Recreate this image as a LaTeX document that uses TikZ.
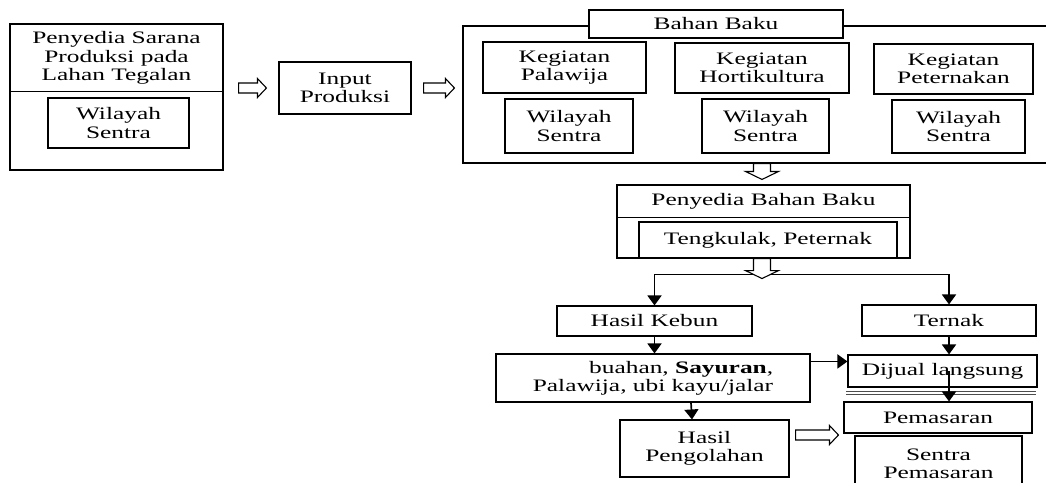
\documentclass[tikz,border=0pt]{standalone}
\usepackage{fontspec}
\setmainfont{Liberation Serif}[FakeStretch=1.45]
\usetikzlibrary{arrows.meta,calc}

% hollow block arrows between two points (tail, tip)
\newcommand\hollowright[2]{%
  \draw[hollow] let \p1=(#1), \p2=(#2) in
    (\x1,\y1+5pt) -- (\x2-9pt,\y1+5pt) -- (\x2-9pt,\y1+9.5pt) -- (\x2,\y1)
    -- (\x2-9pt,\y1-9.5pt) -- (\x2-9pt,\y1-5pt) -- (\x1,\y1-5pt) -- cycle;}
\newcommand\hollowdown[2]{%
  \draw[hollow] let \p1=(#1), \p2=(#2) in
    (\x1-8.5pt,\y1) -- (\x1-8.5pt,\y2+8pt) -- (\x1-16.5pt,\y2+8pt) -- (\x1,\y2)
    -- (\x1+16.5pt,\y2+8pt) -- (\x1+8.5pt,\y2+8pt) -- (\x1+8.5pt,\y1) -- cycle;}

\begin{document}
\begin{tikzpicture}[x=1pt,y=-1pt,
  txt/.style={inner sep=0pt, align=center, font=\fontsize{17.5pt}{18.3pt}\selectfont},
  box/.style={txt, draw, line width=1.1pt},
  arr/.style={line width=1.7pt, -{Triangle[width=14pt,length=10pt]}},
  hollow/.style={draw, fill=white, line width=1.1pt, line join=miter},
]
\useasboundingbox (0,0) rectangle (1046,482);
\clip (0,0) rectangle (1046,482);
\fill[white] (0,0) rectangle (1046,482);

% production inputs on dry land
\node[box, minimum width=213pt, minimum height=146pt] (sarana) at (116.5,97) {};
\node[txt] (saranatxt) at (116.5,58) {Penyedia Sarana\\Produksi pada\\Lahan Tegalan};
\draw[line width=1.1pt] ($(sarana.north west)+(0,68)$) -- ($(sarana.north east)+(0,68)$);
\node[box, minimum width=141pt, minimum height=50pt] (wil0) at (118.5,123) {Wilayah\\Sentra};

\node[box, minimum width=132pt, minimum height=52pt] (input) at (345,88) {Input\\Produksi};

% raw material group
\node[box, minimum width=597pt, minimum height=137pt] (bahan) at (761.5,94.5) {};
\node[box, fill=white, minimum width=254pt, minimum height=28pt] (bahanbaku) at (716,24) {Bahan Baku};
\node[box, minimum width=163pt, minimum height=51pt] (keg1) at (564.5,67.5) {Kegiatan\\Palawija};
\node[box, minimum width=174pt, minimum height=50pt] (keg2) at (762,68) {Kegiatan\\Hortikultura};
\node[box, minimum width=159pt, minimum height=50pt] (keg3) at (953.5,69) {Kegiatan\\Peternakan};
\node[box, minimum width=128pt, minimum height=54pt] (wil1) at (569,126) {Wilayah\\Sentra};
\node[box, minimum width=127pt, minimum height=54pt] (wil2) at (765.5,126) {Wilayah\\Sentra};
\node[box, minimum width=133pt, minimum height=53pt] (wil3) at (958.5,126.5) {Wilayah\\Sentra};

% raw material suppliers
\node[box, minimum width=293pt, minimum height=73pt] (penyedia) at (763.5,221.5) {};
\node[txt] (penyediatxt) at (763.5,201.5) {Penyedia Bahan Baku};
\draw[line width=1.1pt] ($(penyedia.north west)+(0,33)$) -- ($(penyedia.north east)+(0,33)$);
\node[box, minimum width=258pt, minimum height=36pt] (tengkulak) at (768,240) {Tengkulak, Peternak};

% products
\node[box, minimum width=195pt, minimum height=30pt] (hk) at (654.5,321) {Hasil Kebun};
\node[box, minimum width=174pt, minimum height=31pt] (ternak) at (949,320.5) {Ternak};
\node[box, minimum width=314pt, minimum height=48pt, align=right] (buahan) at (653,378)
  {buahan, \textbf{Sayuran},\\Palawija, ubi kayu/jalar};
\node[box, minimum width=189pt, minimum height=32pt] (dijual) at (942.5,371) {Dijual langsung};
\node[box, minimum width=188pt, minimum height=31pt] (pemasaran) at (938,417.5) {Pemasaran};
\node[box, minimum width=167pt, minimum height=56pt] (sentra) at (938.5,464) {Sentra\\Pemasaran};
\node[box, minimum width=169pt, minimum height=57pt] (hp) at (704.5,448.5) {Hasil\\Pengolahan};

\draw[gray!60!black, line width=0.6pt] ($(dijual.south west)+(-1,4)$) -- ($(dijual.south east)+(-2,4)$);
\draw[gray!60!black, line width=0.6pt] ($(dijual.south west)+(-1,6.5)$) -- ($(dijual.south east)+(-2,6.5)$);

% block arrows
\coordinate (a1t) at ($(sarana.east |- input.center)+(15,0)$);
\coordinate (a1h) at ($(input.west)+(-12,0)$);
\hollowright{a1t}{a1h}
\coordinate (a2t) at ($(input.east)+(12,0)$);
\coordinate (a2h) at ($(bahan.west |- input.center)+(-8,0)$);
\hollowright{a2t}{a2h}
\coordinate (a3t) at (keg2 |- bahan.south);
\coordinate (a3h) at ($(keg2 |- penyedia.north)+(0,-5)$);
\hollowdown{a3t}{a3h}

% branch to garden and livestock products
\coordinate (split) at ($(keg2 |- penyedia.south)+(0,16)$);
\draw[arr] (split) -| (hk.north);
\draw[arr] (split) -| (ternak.north);
\coordinate (a4t) at (keg2 |- penyedia.south);
\coordinate (a4h) at ($(keg2 |- penyedia.south)+(0,20)$);
\hollowdown{a4t}{a4h}

\draw[arr] (hk.south) -- (hk.south |- buahan.north);
\draw[arr] (ternak.south) -- (ternak.south |- dijual.north);
\coordinate (bd) at ($(buahan.north east)+(0,8)$);
\draw[arr] (bd) -- (dijual.west |- bd);
\draw[arr] (ternak.south |- dijual.center) -- (ternak.south |- pemasaran.north);
\coordinate (bh) at ($(buahan.south)+(38,0)$);
\draw[arr] (bh) -- ($(bh |- hp.north)+(1,0)$);

\coordinate (a5t) at ($(hp.east)+(6,-13.5)$);
\coordinate (a5h) at ($(pemasaran.west |- a5t)+(-5,0)$);
\hollowright{a5t}{a5h}
\end{tikzpicture}
\end{document}
